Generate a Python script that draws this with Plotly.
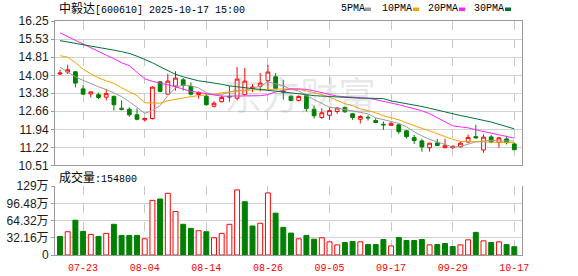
import plotly.graph_objects as go

# ---------------- data ----------------
dates = ["07-18", "07-21", "07-22", "07-23", "07-24", "07-25", "07-28", "07-29", "07-30", "07-31",
         "08-01", "08-04", "08-05", "08-06", "08-07", "08-08", "08-11", "08-12", "08-13", "08-14",
         "08-15", "08-18", "08-19", "08-20", "08-21", "08-22", "08-25", "08-26", "08-27", "08-28",
         "08-29", "09-01", "09-02", "09-03", "09-04", "09-05", "09-08", "09-09", "09-10", "09-11",
         "09-12", "09-15", "09-16", "09-17", "09-18", "09-19", "09-22", "09-23", "09-24", "09-25",
         "09-26", "09-29", "09-30", "10-09", "10-10", "10-13", "10-14", "10-15", "10-16", "10-17"]

open_ = [14.14, 14.22, 14.23, 13.55, 13.35, 13.32, 13.22, 13.25, 12.78, 12.74,
         12.52, 12.32, 12.37, 13.83, 13.34, 13.66, 13.91, 13.65, 13.33, 13.26,
         12.86, 13.04, 13.25, 13.18, 13.32, 13.57, 13.65, 13.87, 14.03, 13.46,
         13.26, 13.09, 13.28, 12.74, 12.41, 12.50, 12.65, 12.81, 12.56, 12.34,
         12.42, 12.29, 12.14, 12.10, 12.12, 11.88, 11.61, 11.48, 11.21, 11.40,
         11.21, 11.21, 11.25, 11.44, 11.65, 11.12, 11.64, 11.42, 11.56, 11.36]
high = [14.31, 14.51, 14.25, 13.71, 13.44, 13.40, 13.55, 13.29, 13.09, 12.82,
        12.77, 12.40, 13.65, 13.87, 14.15, 14.25, 13.98, 13.81, 13.45, 13.36,
        13.06, 13.29, 13.67, 14.42, 14.38, 13.74, 14.18, 14.51, 14.18, 13.91,
        13.28, 13.29, 13.32, 12.89, 12.78, 12.82, 12.82, 12.85, 12.58, 12.50,
        12.50, 12.38, 12.25, 12.25, 12.16, 11.92, 11.72, 11.56, 11.40, 11.56,
        11.56, 11.29, 11.44, 11.73, 12.12, 11.74, 11.71, 11.64, 11.65, 11.41]
low = [14.10, 14.14, 13.61, 13.33, 13.21, 13.14, 13.09, 12.69, 12.69, 12.44,
       12.30, 12.25, 12.33, 13.41, 13.32, 13.48, 13.48, 13.29, 13.16, 12.88,
       12.81, 13.01, 13.04, 13.09, 13.29, 13.43, 13.45, 13.54, 13.54, 13.12,
       13.06, 13.05, 12.65, 12.37, 12.36, 12.32, 12.56, 12.60, 12.32, 12.17,
       12.29, 12.20, 11.92, 12.09, 11.76, 11.58, 11.36, 11.05, 11.05, 11.28,
       11.19, 11.17, 11.21, 11.39, 11.58, 11.01, 11.39, 11.21, 11.34, 11.13]
close = [14.18, 14.31, 13.78, 13.34, 13.43, 13.21, 13.36, 12.92, 12.74, 12.52,
         12.34, 12.37, 13.62, 13.45, 13.86, 13.98, 13.69, 13.34, 13.40, 12.92,
         12.98, 13.21, 13.23, 13.94, 13.86, 13.62, 13.78, 14.22, 13.57, 13.43,
         13.09, 13.25, 12.77, 12.48, 12.60, 12.69, 12.79, 12.64, 12.41, 12.45,
         12.40, 12.21, 12.12, 12.18, 11.85, 11.65, 11.49, 11.24, 11.39, 11.30,
         11.29, 11.27, 11.39, 11.62, 11.60, 11.63, 11.44, 11.60, 11.41, 11.13]
prev_close = 14.22  # close of the session before the first shown day (estimated)

ma5 = [14.41, 14.23, 14.03, 13.89, 13.75, 13.63, 13.53, 13.40, 13.24, 13.04,
       12.82, 12.58, 12.68, 12.88, 13.28, 13.59, 13.71, 13.67, 13.59, 13.40,
       13.32, 13.32, 13.43, 13.49, 13.49, 13.59, 13.65, 13.83, 13.75, 13.67,
       13.53, 13.47, 13.28, 13.12, 12.96, 12.82, 12.78, 12.72, 12.65, 12.60,
       12.56, 12.40, 12.32, 12.26, 12.18, 12.04, 11.84, 11.68, 11.54, 11.44,
       11.32, 11.23, 11.26, 11.36, 11.44, 11.48, 11.50, 11.48, 11.48, 11.48]
ma10 = [14.87, 14.81, 14.59, 14.33, 14.15, 13.99, 13.87, 13.77, 13.59, 13.45,
        13.28, 13.00, 12.98, 12.98, 13.08, 13.14, 13.18, 13.24, 13.28, 13.30,
        13.34, 13.40, 13.43, 13.47, 13.49, 13.51, 13.51, 13.53, 13.55, 13.55,
        13.55, 13.53, 13.47, 13.40, 13.32, 13.22, 13.08, 12.96, 12.88, 12.76,
        12.68, 12.60, 12.48, 12.40, 12.32, 12.20, 12.08, 11.98, 11.88, 11.76,
        11.64, 11.54, 11.46, 11.45, 11.46, 11.46, 11.44, 11.42, 11.41, 11.41]
ma20 = [15.78, 15.63, 15.47, 15.31, 15.19, 15.03, 14.89, 14.75, 14.59, 14.47,
        14.19, 13.95, 13.85, 13.79, 13.71, 13.63, 13.55, 13.45, 13.41, 13.36,
        13.30, 13.26, 13.26, 13.26, 13.26, 13.26, 13.28, 13.32, 13.43, 13.49,
        13.55, 13.55, 13.53, 13.47, 13.40, 13.32, 13.26, 13.24, 13.22, 13.20,
        13.18, 13.12, 13.06, 13.00, 12.92, 12.84, 12.76, 12.68, 12.56, 12.40,
        12.24, 12.08, 12.04, 12.00, 11.92, 11.86, 11.80, 11.72, 11.66, 11.59]
ma30 = [15.47, 15.42, 15.37, 15.31, 15.26, 15.20, 15.15, 15.09, 15.03, 14.96,
        14.85, 14.73, 14.59, 14.43, 14.28, 14.13, 14.03, 13.95, 13.87, 13.83,
        13.79, 13.73, 13.67, 13.63, 13.59, 13.55, 13.52, 13.49, 13.46, 13.43,
        13.40, 13.36, 13.32, 13.28, 13.26, 13.24, 13.22, 13.20, 13.18, 13.18,
        13.18, 13.16, 13.16, 13.07, 13.02, 12.96, 12.91, 12.85, 12.78, 12.70,
        12.63, 12.56, 12.49, 12.43, 12.37, 12.31, 12.23, 12.14, 12.05, 11.96]

# volume in 万 shares
volume = [34.7, 43.5, 65.0, 44.1, 38.5, 34.7, 40.4, 57.4, 36.6, 36.6,
          36.6, 30.3, 102.2, 104.7, 115.4, 81.3, 57.4, 49.8, 45.4, 43.5,
          32.2, 40.4, 57.4, 121.7, 99.6, 54.2, 59.3, 116.0, 78.2, 51.7,
          41.0, 30.3, 36.6, 29.6, 32.2, 24.6, 18.9, 23.3, 25.2, 24.6,
          19.5, 19.5, 29.0, 17.0, 32.8, 27.1, 27.1, 29.0, 18.9, 19.5,
          21.4, 15.8, 18.9, 28.4, 42.3, 26.5, 23.3, 24.6, 19.5, 15.48]

tick_dates = ["07-23", "08-04", "08-14", "08-26", "09-05", "09-17", "09-29", "10-17"]
price_ticks = [10.51, 11.22, 11.94, 12.66, 13.38, 14.09, 14.81, 15.53, 16.25]
vol_ticks = [0, 32.16, 64.32, 96.48, 129]
vol_tick_text = ["0", "32.16万", "64.32万", "96.48万", "129万"]

stock_name = "中毅达"
stock_code = "600610"
stamp = "2025-10-17 15:00"
ma_names = ["5PMA", "10PMA", "20PMA", "30PMA"]

# ---------------- styles ----------------
RED = "#ff0000"
GREEN = "#008000"
MA_COLORS = ["#9a9a9a", "#f5a300", "#ff22ff", "#00703a"]
GRID = "#d2d2d2"
AXIS = "#9a9a9a"

L, R, T, B = 55, 56, 21, 21
W, H = 578, 276
PW, PH = W - L - R, H - T - B


def px(x):
    return (x - L) / PW


def py(y):
    return (H - B - y) / PH


fig = go.Figure()

fig.add_trace(go.Candlestick(
    x=dates, open=open_, high=high, low=low, close=close,
    xaxis="x", yaxis="y",
    increasing=dict(line=dict(color=RED, width=1), fillcolor="#ffffff"),
    decreasing=dict(line=dict(color=GREEN, width=1), fillcolor=GREEN),
    whiskerwidth=0, showlegend=False, hoverinfo="skip"))

for vals, col in zip([ma5, ma10, ma20, ma30], MA_COLORS):
    fig.add_trace(go.Scatter(x=dates, y=vals, mode="lines", xaxis="x", yaxis="y",
                             line=dict(color=col, width=1), showlegend=False, hoverinfo="skip"))

prevs = [prev_close] + close[:-1]
up = [c > p for c, p in zip(close, prevs)]
fig.add_trace(go.Bar(
    x=dates, y=volume, xaxis="x2", yaxis="y2", width=0.64,
    marker=dict(color=["#ffffff" if u else GREEN for u in up],
                line=dict(color=[RED if u else GREEN for u in up], width=1)),
    showlegend=False, hoverinfo="skip"))

price_dom = [py(165.3), 1.0]
vol_dom = [0.0, py(186)]
xr = [-0.65, 60.0]

fig.update_layout(
    width=W, height=H, margin=dict(l=L, r=R, t=T, b=B, autoexpand=False),
    paper_bgcolor="white", plot_bgcolor="white", showlegend=False,
    bargap=0.35,
    xaxis=dict(type="category", anchor="y", domain=[0, 1], range=xr, automargin=False,
               tickvals=tick_dates, showticklabels=False, ticks="",
               showgrid=True, gridcolor="#c8c8c8", griddash="dash", gridwidth=1,
               showline=True, linecolor=AXIS, mirror=True, zeroline=False,
               rangeslider=dict(visible=False), fixedrange=True),
    yaxis=dict(domain=price_dom, range=[10.51, 16.25], anchor="x", automargin=False,
               tickvals=price_ticks, ticktext=[f"{v:.2f}" for v in price_ticks],
               tickfont=dict(family="Liberation Sans, Arial", size=12, color="#1a1a1a"),
               ticks="outside", ticklen=3, tickcolor=AXIS,
               showgrid=True, gridcolor=GRID, gridwidth=1,
               showline=True, linecolor=AXIS, mirror=True, zeroline=False),
    xaxis2=dict(type="category", anchor="y2", domain=[0, 1], range=xr, automargin=False,
                tickvals=tick_dates, ticktext=tick_dates,
                tickfont=dict(family="Liberation Mono, monospace", size=10, color=RED),
                ticks="outside", ticklen=3, tickcolor="rgba(0,0,0,0)",
                showgrid=True, gridcolor="#c8c8c8", griddash="dash", gridwidth=1,
                showline=True, linecolor=AXIS, mirror=False, zeroline=False),
    yaxis2=dict(domain=vol_dom, range=[0, 129], anchor="x2", automargin=False,
                tickvals=vol_ticks, ticktext=vol_tick_text,
                tickfont=dict(family="Liberation Sans, Noto Sans CJK SC", size=12, color="#1a1a1a"),
                ticks="outside", ticklen=3, tickcolor=AXIS,
                showgrid=True, gridcolor=GRID, gridwidth=1,
                showline=True, linecolor=AXIS, mirror=True, zeroline=False),
)

MONO = "Liberation Mono, Noto Sans CJK SC"
ann = []
ann.append(dict(xref="paper", yref="paper", x=px(57), y=py(9), xanchor="left", yanchor="middle",
                showarrow=False,
                text=f'<span style="font-size:12px">{stock_name}</span>[{stock_code}] {stamp}',
                font=dict(family=MONO, size=10, color="#000")))
ann.append(dict(xref="paper", yref="paper", x=px(57), y=py(178), xanchor="left", yanchor="middle",
                showarrow=False,
                text=f'<span style="font-size:12px">成交量</span>:{int(round(volume[-1] * 10000))}',
                font=dict(family=MONO, size=10, color="#000")))
legend_x = [339, 380, 426, 472]
square_x = [365, 413, 459, 505]
shapes = []
for name, lx, sx, col in zip(ma_names, legend_x, square_x, MA_COLORS):
    ann.append(dict(xref="paper", yref="paper", x=px(lx), y=py(9), xanchor="left", yanchor="middle",
                    showarrow=False, text=name, font=dict(family=MONO, size=10, color="#000")))
    shapes.append(dict(type="rect", xref="paper", yref="paper", x0=px(sx), x1=px(sx + 6),
                       y0=py(11), y1=py(7.5), fillcolor=col, line=dict(width=0)))
ann.append(dict(xref="paper", yref="paper", x=px(300), y=py(92), xanchor="center", yanchor="middle",
                showarrow=False, text="东方财富",
                font=dict(family="Noto Sans CJK SC", size=38, color="rgba(150,150,165,0.22)")))
fig.update_layout(annotations=ann, shapes=shapes)

fig.write_html("out.html")
